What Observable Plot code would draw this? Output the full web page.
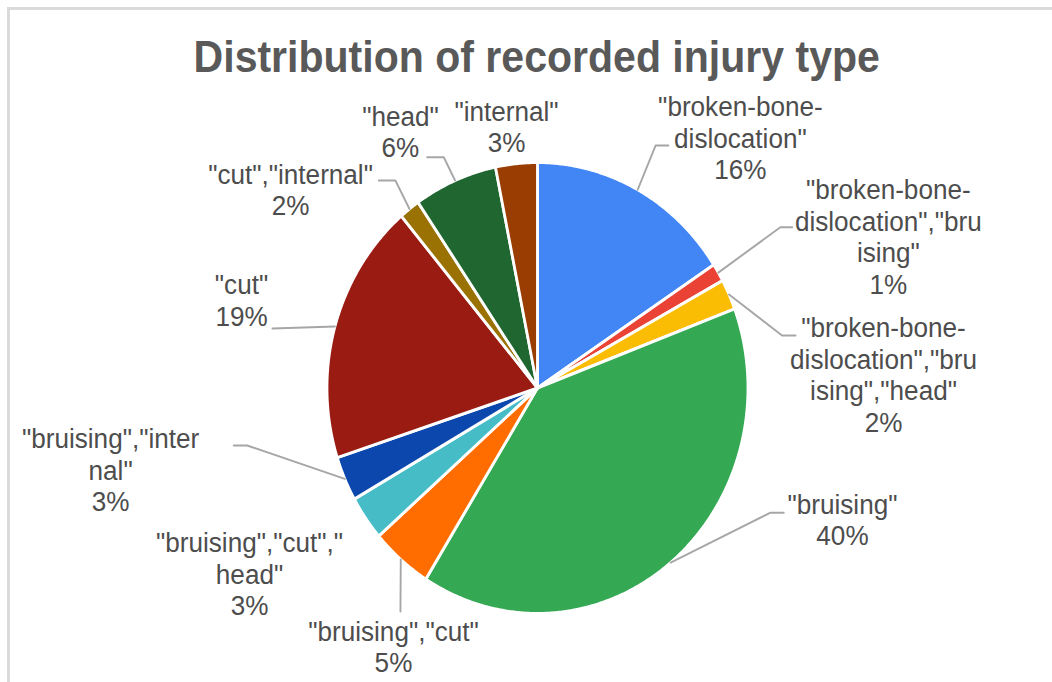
<!DOCTYPE html>
<html>
<head>
<meta charset="utf-8">
<script src="https://cdn.jsdelivr.net/npm/d3@7"></script>
<script src="https://cdn.jsdelivr.net/npm/@observablehq/plot@0.6"></script>
<style>
  html, body { margin: 0; padding: 0; background: #fff; width: 1052px; height: 682px; overflow: hidden; }
  #frame { position: absolute; left: 7px; top: 7px; width: 1100px; height: 700px;
           border-left: 3px solid #dadada; border-top: 3px solid #dadada; }
  #wrap { position: absolute; left: 0; top: 0; width: 1128px; transform: scaleX(0.93262); transform-origin: 0 0; }
  #title { width: 1128px; height: 90px; box-sizing: border-box; padding-top: 35px; padding-left: 23px;
           font: bold 44px/44px "Liberation Sans", Arial, sans-serif; color: #595959;
           text-align: center; white-space: nowrap; }
  #chart svg { display: block; }
</style>
</head>
<body>
<div id="frame"></div>
<div id="wrap">
  <div id="title"></div>
  <div id="chart"></div>
</div>
<script>
// ---- data ----
const chartTitle = "Distribution of recorded injury type";

const categories = [
  '"broken-bone-dislocation"',
  '"broken-bone-dislocation","bruising"',
  '"broken-bone-dislocation","bruising","head"',
  '"bruising"',
  '"bruising","cut"',
  '"bruising","cut","head"',
  '"bruising","internal"',
  '"cut"',
  '"cut","internal"',
  '"head"',
  '"internal"'
];

// share of recorded injuries
const values = [15.8, 1.3, 2.2, 39.6, 4.7, 3.2, 3.2, 18.8, 1.6, 6.4, 3.2];

const colors = [
  "#4285F4", "#EA4335", "#FBBC04", "#34A853", "#FF6D01", "#46BDC6",
  "#0B47AD", "#991B12", "#9A7103", "#1F6631", "#9A3D02"
];

// ---- layout (label wrapping and placement, in pie-radius units) ----
const labelLayout = [
  { lines: ['"broken-bone-', 'dislocation"'], at: [0.964, 1.204], leader: [[0.561, 1.075], [0.622, 1.075]] },
  { lines: ['"broken-bone-', 'dislocation","bru', 'ising"'], at: [1.667, 0.838], leader: [[1.154, 0.713], [1.210, 0.713]] },
  { lines: ['"broken-bone-', 'dislocation","bru', 'ising","head"'], at: [1.644, 0.224], leader: [[1.162, 0.233], [1.226, 0.233]] },
  { lines: ['"bruising"'], at: [1.449, -0.558], leader: [[1.107, -0.553], [1.170, -0.553]] },
  { lines: ['"bruising","cut"'], at: [-0.684, -1.120], leader: [[-0.651, -0.991]] },
  { lines: ['"bruising","cut","', 'head"'], at: [-1.368, -0.728], leader: [] },
  { lines: ['"bruising","inter', 'nal"'], at: [-2.028, -0.268], leader: [[-1.379, -0.255], [-1.443, -0.255]] },
  { lines: ['"cut"'], at: [-1.406, 0.415], leader: [[-1.259, 0.264]] },
  { lines: ['"cut","internal"'], at: [-1.173, 0.906], leader: [[-0.675, 0.920], [-0.754, 0.920]] },
  { lines: ['"head"'], at: [-0.651, 1.164], leader: [[-0.445, 1.023], [-0.524, 1.023]] },
  { lines: ['"internal"'], at: [-0.147, 1.186], leader: [] }
];

const W = 1128, H = 592;
const cx = 575.8, cy = 297.5, rx = 225.7, ry = 225.5;
const lineStep = 31.5 / ry; // line height in radius units

document.getElementById("title").textContent = chartTitle;

const rows = categories.map((name, i) => ({ name, value: values[i], i }));
const total = d3.sum(values);
const arcs = d3.pie().sort(null).value(d => d.value)(rows);

// slice polygons
const slicePts = [];
for (const a of arcs) {
  const name = a.data.name;
  const n = Math.max(4, Math.ceil((a.endAngle - a.startAngle) / 0.008));
  slicePts.push({ name, x: 0, y: 0 });
  for (let k = 0; k <= n; k++) {
    const t = a.startAngle + (a.endAngle - a.startAngle) * k / n;
    slicePts.push({ name, x: Math.sin(t), y: Math.cos(t) });
  }
  slicePts.push({ name, x: 0, y: 0 });
}

// leader lines
const leaderPts = [];
arcs.forEach((a, i) => {
  const L = labelLayout[i];
  if (!L.leader.length) return;
  const mid = (a.startAngle + a.endAngle) / 2;
  leaderPts.push({ name: a.data.name, x: Math.sin(mid), y: Math.cos(mid) });
  for (const p of L.leader) leaderPts.push({ name: a.data.name, x: p[0], y: p[1] });
});

// label lines (one text per line, baseline at anchor)
const labelRows = [];
arcs.forEach((a, i) => {
  const L = labelLayout[i];
  const pct = Math.round(a.data.value / total * 100) + "%";
  const lines = [...L.lines, pct];
  lines.forEach((t, j) => labelRows.push({ x: L.at[0], y: L.at[1] - j * lineStep, text: t }));
});

const chart = Plot.plot({
  width: W,
  height: H,
  margin: 0,
  x: { domain: [-1, 1], range: [cx - rx, cx + rx], axis: null },
  y: { domain: [-1, 1], range: [cy + ry, cy - ry], axis: null },
  color: { domain: categories, range: colors },
  style: { background: "transparent", fontFamily: '"Liberation Sans", Arial, sans-serif', overflow: "visible" },
  marks: [
    Plot.line(slicePts, { x: "x", y: "y", z: "name", fill: "name", stroke: "white", strokeWidth: 3, strokeLinejoin: "round", curve: "linear" }),
    Plot.line(leaderPts, { x: "x", y: "y", z: "name", stroke: "#a6a6a6", strokeWidth: 2, curve: "linear" }),
    Plot.text(labelRows, { x: "x", y: "y", text: "text", fill: "#4d4d4d", fontSize: 28, textAnchor: "middle", lineAnchor: "bottom", fontFamily: '"Liberation Sans", Arial, sans-serif' })
  ]
});
document.getElementById("chart").appendChild(chart);
</script>
</body>
</html>
